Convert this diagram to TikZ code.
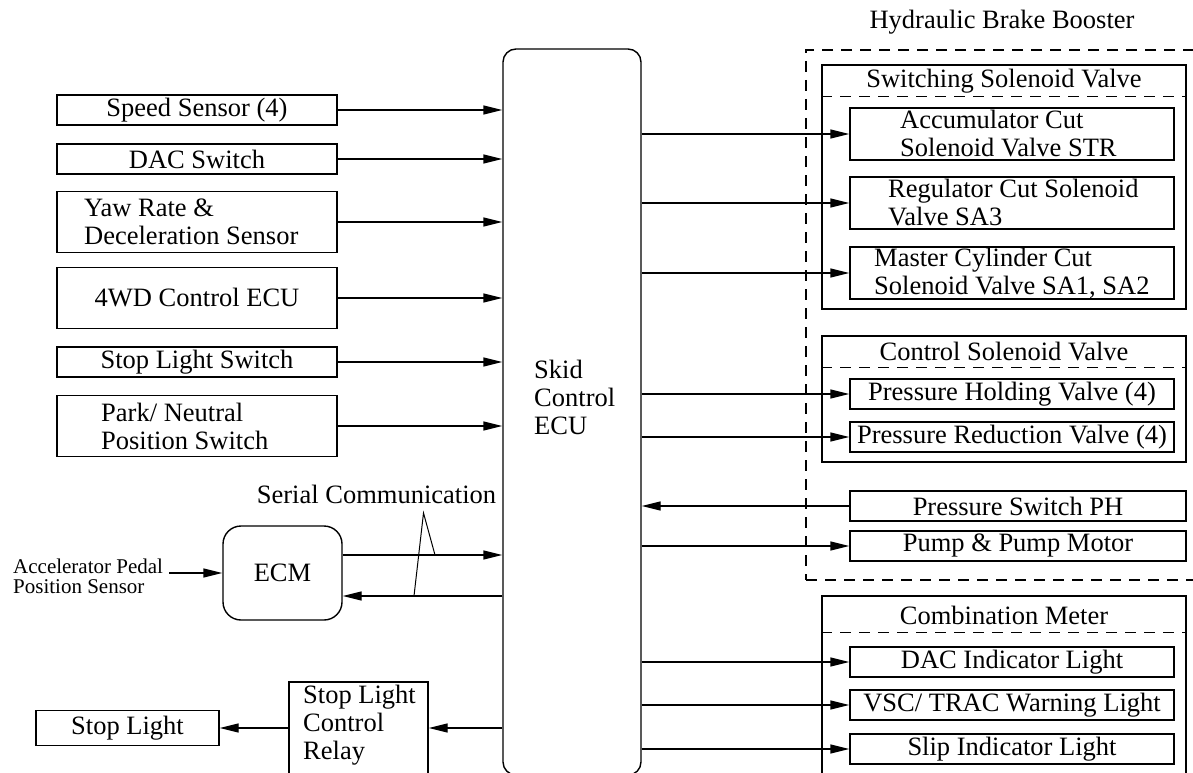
\documentclass[tikz,border=0pt]{standalone}
\usepackage{fontspec}
\setmainfont{Liberation Serif}
\usetikzlibrary{arrows.meta,calc}
\newcommand\fsz{\fontsize{26.5}{28}\selectfont}
\newcommand\fsmall{\fontsize{21}{20}\selectfont}
\begin{document}
\begin{tikzpicture}[x=1pt,y=-1pt,
  box/.style={draw, line width=1.4pt, rectangle, inner sep=0pt, font=\fsz, align=center},
  arr/.style={line width=1.4pt, -{Triangle[length=19pt,width=9pt]}},
  ln/.style={line width=1.4pt},
  dsh/.style={line width=1.4pt, dash pattern=on 11pt off 8pt},
  lbl/.style={inner sep=0pt, font=\fsz, align=left}]
\useasboundingbox (0,0) rectangle (1193,773);

% Hydraulic brake booster group
\node[lbl, anchor=center] (hbbt) at (1002,22) {Hydraulic Brake Booster};
\node[draw, dsh, minimum width=404pt, minimum height=530pt, inner sep=0pt] (hbb) at (1008,315) {};

% Skid control ECU
\node[draw, ln, rounded corners=13pt, minimum width=138pt, minimum height=726pt, inner sep=0pt] (ecu) at (572,412) {};
\node[lbl, anchor=west] (ecut) at (534,397) {Skid\\Control\\ECU};

% left inputs
\node[box, minimum width=280pt, minimum height=30pt] (speed) at (197,110) {Speed Sensor (4)};
\node[box, minimum width=280pt, minimum height=30pt] (dac) at (197,159) {DAC Switch};
\node[box, minimum width=280pt, minimum height=61pt] (yaw) at (197,222) {};
\node[lbl, anchor=west] (yawt) at (84,222) {Yaw Rate \&\\Deceleration Sensor};
\node[box, minimum width=280pt, minimum height=61pt] (fwd) at (197,298) {4WD Control ECU};
\node[box, minimum width=280pt, minimum height=30pt] (sls) at (197,362) {Stop Light Switch};
\node[box, minimum width=280pt, minimum height=61pt] (pns) at (197,426) {};
\node[lbl, anchor=west] (pnst) at (101,426) {Park/ Neutral\\Position Switch};
\foreach \n in {speed,dac,yaw,fwd,sls,pns} \draw[arr] (\n.east) -- (\n.east -| ecu.west);

% switching solenoid valve
\node[box, minimum width=364pt, minimum height=244pt] (ssv) at (1004,187) {};
\node[lbl, anchor=center] (ssvt) at (1004,81) {Switching Solenoid Valve};
\draw[dsh] ([yshift=-32pt]ssv.north west) -- ([yshift=-32pt]ssv.north east);
\node[box, minimum width=324pt, minimum height=52pt] (acc) at (1012,134) {};
\node[lbl, anchor=west] (acct) at (900,134) {Accumulator Cut\\Solenoid Valve STR};
\node[box, minimum width=324pt, minimum height=52pt] (reg) at (1012,203) {};
\node[lbl, anchor=west] (regt) at (888,203) {Regulator Cut Solenoid\\Valve SA3};
\node[box, minimum width=324pt, minimum height=52pt] (mst) at (1012,273) {};
\node[lbl, anchor=west] (mstt) at (874,273) {Master Cylinder Cut\\Solenoid Valve SA1, SA2};
\foreach \n in {acc,reg,mst} \draw[arr] (\n.west -| ecu.east) -- (\n.west);

% control solenoid valve
\node[box, minimum width=364pt, minimum height=126pt] (csv) at (1004,399) {};
\node[lbl, anchor=center] (csvt) at (1004,352) {Control Solenoid Valve};
\draw[dsh] ([yshift=-32pt]csv.north west) -- ([yshift=-32pt]csv.north east);
\node[box, minimum width=324pt, minimum height=30pt] (phv) at (1012,394) {Pressure Holding Valve (4)};
\node[box, minimum width=324pt, minimum height=30pt] (prv) at (1012,437) {Pressure Reduction Valve (4)};
\foreach \n in {phv,prv} \draw[arr] (\n.west -| ecu.east) -- (\n.west);

% pressure switch, pump
\node[box, minimum width=336pt, minimum height=30pt] (psph) at (1018,506) {Pressure Switch PH};
\node[box, minimum width=336pt, minimum height=30pt] (pump) at (1018,546) {Pump \& Pump Motor};
\draw[arr] (psph.west) -- (psph.west -| ecu.east);
\draw[arr] (pump.west -| ecu.east) -- (pump.west);

% combination meter
\node[box, minimum width=364pt, minimum height=204pt] (cmb) at (1004,698) {};
\node[lbl, anchor=center] (cmbt) at (1004,615) {Combination Meter};
\draw[dsh] ([yshift=-37pt]cmb.north west) -- ([yshift=-37pt]cmb.north east);
\node[box, minimum width=324pt, minimum height=30pt] (dacl) at (1012,662) {DAC Indicator Light};
\node[box, minimum width=324pt, minimum height=30pt] (vsc) at (1012,705) {VSC/ TRAC Warning Light};
\node[box, minimum width=324pt, minimum height=30pt] (slip) at (1012,749) {Slip Indicator Light};
\foreach \n in {dacl,vsc,slip} \draw[arr] (\n.west -| ecu.east) -- (\n.west);

% ECM and serial communication
\node[lbl, anchor=center] (serial) at (376.5,494) {Serial Communication};
\node[draw, ln, rounded corners=18pt, minimum width=119pt, minimum height=94pt, inner sep=0pt, font=\fsz] (ecm) at (282.5,573) {ECM};
\coordinate (e1) at ([yshift=18pt]ecm.east);
\coordinate (e2) at ([yshift=-23pt]ecm.east);
\draw[arr] (e1) -- (e1 -| ecu.west);
\draw[arr] (e2 -| ecu.west) -- (e2);
\coordinate (apex) at (423.5,513);
\coordinate (p1) at (435,555);
\coordinate (p2) at (414,596);
\draw[line width=1pt] (p1) -- (apex) -- (p2);

\node[lbl, font=\fsmall, anchor=west] (apps) at (13,576) {Accelerator Pedal\\Position Sensor};
\coordinate (a1) at ([xshift=6pt]apps.east);
\draw[arr] (a1 |- ecm.west) -- (ecm.west);

% stop light
\node[box, minimum width=183pt, minimum height=35pt] (stl) at (127.5,728) {Stop Light};
\node[box, minimum width=139pt, minimum height=118pt] (relay) at (358.5,741) {};
\node[lbl, anchor=west] (relayt) at (303,725) {Stop Light\\Control\\Relay};
\draw[arr] (stl.east -| ecu.west) -- (stl.east -| relay.east);
\draw[arr] (stl.east -| relay.west) -- (stl.east);
\end{tikzpicture}
\end{document}
